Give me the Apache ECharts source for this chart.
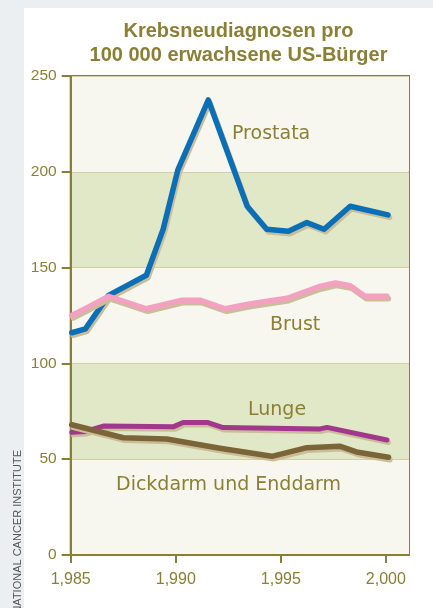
<!DOCTYPE html>
<html>
<head>
<meta charset="utf-8">
<script src="https://cdn.jsdelivr.net/npm/echarts@6/dist/echarts.min.js"></script>
<style>
  html, body { margin: 0; padding: 0; background: #eceff2; }
  #chart { width: 433px; height: 608px; }
</style>
</head>
<body>
<div id="chart"></div>
<script>
// Jahreswerte: [Jahr, Neudiagnosen pro 100 000]
const prostata = [
  [1985.05, 116], [1985.7, 118], [1986.8, 135.5], [1988.6, 146], [1989.4, 170],
  [1990.1, 201], [1991.55, 237.5], [1993.4, 182], [1994.33, 170], [1995.36, 169],
  [1996.24, 173.5], [1997.06, 170], [1998.3, 182], [2000.1, 177.5]
];
const brust = [
  [1985.05, 125], [1985.76, 129], [1986.8, 135], [1988.6, 128.5], [1990.3, 133],
  [1991.15, 133], [1992.35, 128.5], [1993.5, 131], [1995.3, 134], [1996.8, 140],
  [1997.6, 142], [1998.3, 140.5], [1999.0, 135], [2000.05, 135]
];
const lunge = [
  [1985.05, 64], [1985.7, 64.5], [1986.55, 67.3], [1989.9, 67], [1990.35, 69.2],
  [1991.5, 69.2], [1992.25, 66.5], [1996.87, 65.8], [1997.2, 66.6], [2000.05, 60]
];
const darm = [
  [1985.05, 68], [1987.5, 61.2], [1989.57, 60.5], [1992.1, 55.7], [1994.57, 51.5],
  [1996.24, 56], [1997.8, 56.8], [1998.6, 53.8], [2000.12, 51]
];
const xTicks = [1985, 1990, 1995, 2000];
const yTicks = [0, 50, 100, 150, 200, 250];

const olive = '#8a7f35';
const sans = 'Liberation Sans';

function line(name, data, color, width) {
  return {
    name: name,
    type: 'line',
    data: data,
    showSymbol: false,
    silent: true,
    lineStyle: {
      color: color,
      width: width,
      cap: 'round',
      join: 'round',
      shadowColor: '#c9bd9a',
      shadowBlur: 0,
      shadowOffsetX: 1.5,
      shadowOffsetY: 2.5
    }
  };
}

// Beschriftung direkt an den Kurven
function label(text, x, y) {
  return {
    type: 'text', x: x, y: y, z: 10,
    style: { text: text, fill: olive, font: '19px "DejaVu Sans"', textVerticalAlign: 'middle' }
  };
}

let mychart = echarts.init(document.getElementById('chart'));
mychart.setOption({
  backgroundColor: '#eceff2',
  animation: false,
  textStyle: { fontFamily: sans },
  grid: {
    left: 70.7,
    top: 76,
    right: 24,
    bottom: 53,
    show: true,
    backgroundColor: '#f8f7ef',
    borderColor: olive,
    borderWidth: 2
  },
  xAxis: {
    type: 'value',
    min: xTicks[0],
    max: 2001.1,
    interval: 5,
    //Achse
    axisLine: { show: true, lineStyle: { color: olive, width: 2 } },
    axisTick: { show: true, length: 8, lineStyle: { color: olive, width: 2 } },
    axisLabel: { color: olive, fontSize: 16, margin: 17, fontFamily: sans, showMaxLabel: false },
    splitLine: { show: false }
  },
  yAxis: {
    type: 'value',
    min: yTicks[0],
    max: yTicks[yTicks.length - 1],
    interval: 50,
    axisLine: { show: true, lineStyle: { color: olive, width: 2 } },
    axisTick: { show: true, length: 9, lineStyle: { color: olive, width: 2 } },
    axisLabel: { color: olive, fontSize: 15.5, margin: 14, fontFamily: sans },
    //Streifen
    splitArea: { show: true, areaStyle: { color: ['#f8f7ef', '#e0e8c7'] } },
    splitLine: { show: true, lineStyle: { color: '#d3cfa6', width: 1 } }
  },
  graphic: [
    {
      type: 'rect', z: -10,
      shape: { x: 24, y: 8, width: 420, height: 610 },
      style: { fill: '#ffffff' }
    },
    {
      type: 'text', x: 238.5, y: 43.5,
      style: {
        text: 'Krebsneudiagnosen pro\n100 000 erwachsene US-Bürger',
        fill: olive, font: 'bold 20px "Liberation Sans"',
        textAlign: 'center', textVerticalAlign: 'middle', lineHeight: 24
      }
    },
    {
      type: 'text', x: 17.5, y: 450, rotation: Math.PI / 2,
      style: {
        text: 'NATIONAL CANCER INSTITUTE',
        fill: '#555555', font: '11px "Liberation Sans"',
        textAlign: 'right', textVerticalAlign: 'middle'
      }
    },
    label('Prostata', 232, 134),
    label('Brust', 270, 325),
    label('Lunge', 248, 410),
    label('Dickdarm und Enddarm', 116, 485)
  ],
  series: [
    line('Prostata', prostata, '#0a6fb6', 5.5),
    line('Brust', brust, '#f4a0c1', 5.5),
    line('Lunge', lunge, '#a2388c', 5),
    line('Dickdarm und Enddarm', darm, '#7b6538', 5.5)
  ]
});
</script>
</body>
</html>
